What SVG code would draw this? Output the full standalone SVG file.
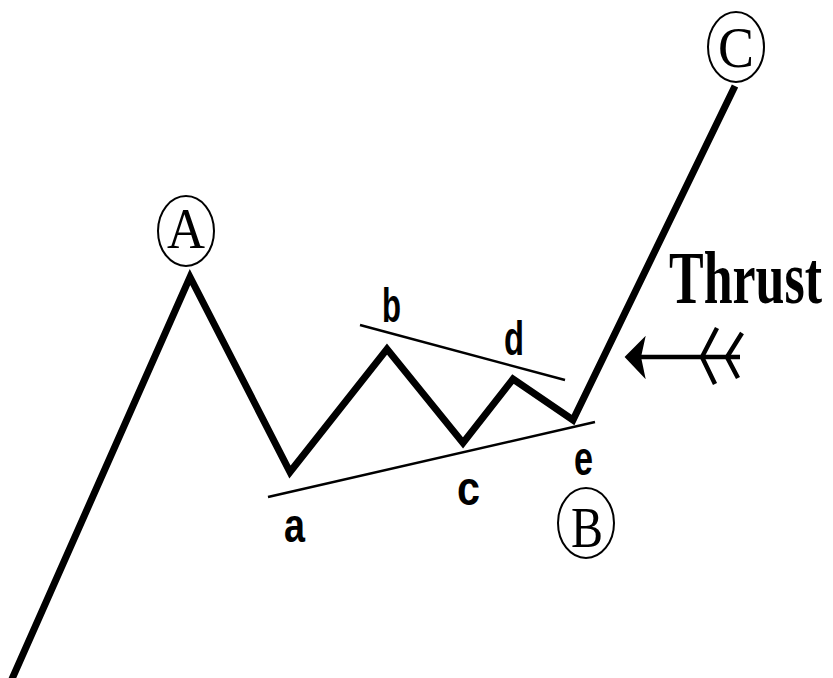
<svg xmlns="http://www.w3.org/2000/svg" width="833" height="678" viewBox="0 0 833 678">
<style>
.wave{fill:none;stroke:#000;stroke-width:7;stroke-linejoin:miter;stroke-linecap:butt}
.trend{fill:none;stroke:#000;stroke-width:2.5}
.ring{fill:none;stroke:#000;stroke-width:2}
.big{font-family:"Liberation Serif","Times New Roman",serif;font-size:58px;fill:#000}
.small{font-family:"Liberation Sans Narrow","Liberation Sans",Arial,sans-serif;font-size:48px;font-weight:bold;fill:#000}
.thrust{font-family:"Liberation Serif","Times New Roman",serif;font-size:75px;font-weight:bold;fill:#000}
.arr{fill:none;stroke:#000;stroke-width:4.5}
</style>
<rect width="833" height="678" fill="#fff"/>
<g id="connectors">
<polyline class="wave" points="8,688 190,277 290,472 387,349 463,443 513,379 573,420 735,86"/>
<line class="trend" x1="268" y1="497" x2="595" y2="422"/>
<line class="trend" x1="360" y1="325" x2="565" y2="380"/>
</g>
<g id="node-A">
<ellipse class="ring" cx="186" cy="231" rx="28" ry="35"/>
<text class="big" x="186" y="248" text-anchor="middle" textLength="38" lengthAdjust="spacingAndGlyphs">A</text>
</g>
<g id="node-C">
<ellipse class="ring" cx="736" cy="47" rx="28" ry="35"/>
<text class="big" x="736" y="67" text-anchor="middle" textLength="36" lengthAdjust="spacingAndGlyphs">C</text>
</g>
<g id="node-B">
<ellipse class="ring" cx="586" cy="523" rx="28" ry="35"/>
<text class="big" x="587" y="547" text-anchor="middle" textLength="32" lengthAdjust="spacingAndGlyphs">B</text>
</g>
<g id="label-a"><text class="small" x="284" y="542" textLength="21" lengthAdjust="spacingAndGlyphs">a</text></g>
<g id="label-b"><text class="small" x="382" y="322" textLength="19" lengthAdjust="spacingAndGlyphs">b</text></g>
<g id="label-c"><text class="small" x="457" y="505" textLength="23" lengthAdjust="spacingAndGlyphs">c</text></g>
<g id="label-d"><text class="small" x="504" y="355" textLength="20" lengthAdjust="spacingAndGlyphs">d</text></g>
<g id="label-e"><text class="small" x="574" y="475" font-size="40" textLength="19" lengthAdjust="spacingAndGlyphs">e</text></g>
<g id="label-thrust"><text class="thrust" x="669" y="303" textLength="153" lengthAdjust="spacingAndGlyphs">Thrust</text></g>
<g id="thrust-arrow">
<line class="arr" x1="636" y1="357" x2="740" y2="357"/>
<polygon points="626,357 644,339 640,357 644,376" fill="#000" stroke="#000" stroke-width="2"/>
<polyline class="arr" points="717,328 702,357 715,384"/>
<polyline class="arr" points="742,333 727,357 738,378"/>
</g>
</svg>
